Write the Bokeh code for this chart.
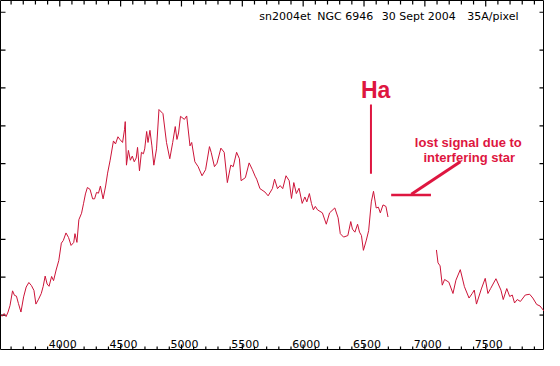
from bokeh.plotting import figure
from bokeh.models import Range1d, Label
from bokeh.core.properties import value
from bokeh.embed import file_html
from bokeh.resources import INLINE

# ---- data: spectrum of sn2004et (wavelength in Angstrom, relative flux) ----
wl_a = [3513, 3527, 3543, 3559, 3575, 3591, 3612, 3628, 3644, 3660,
        3681, 3703, 3724, 3746, 3767, 3788, 3804, 3826, 3848, 3864,
        3880, 3896, 3912, 3933, 3949, 3970, 3992, 4013, 4029, 4051,
        4072, 4093, 4115, 4125, 4141, 4157, 4179, 4195, 4211, 4227,
        4249, 4270, 4286, 4302, 4318, 4334, 4356, 4377, 4393, 4414,
        4441, 4458, 4478, 4494, 4516, 4532, 4538, 4548, 4564, 4580,
        4596, 4612, 4628, 4639, 4655, 4671, 4687, 4698, 4714, 4725,
        4741, 4757, 4773, 4795, 4815, 4848, 4877, 4904, 4928, 4949,
        4963, 4976, 4992, 5024, 5043, 5070, 5084, 5110, 5137, 5169,
        5198, 5230, 5244, 5271, 5292, 5324, 5351, 5377, 5405, 5425,
        5453, 5476, 5490, 5525, 5556, 5583, 5605, 5618, 5645, 5686,
        5712, 5747, 5765, 5789, 5811, 5832, 5859, 5885, 5904, 5923,
        5944, 5966, 5992, 6014, 6030, 6051, 6068, 6084, 6100, 6118,
        6158, 6190, 6217, 6260, 6287, 6305, 6332, 6367, 6391, 6405,
        6425, 6447, 6463, 6479, 6495, 6519, 6538, 6560, 6578, 6600,
        6618, 6634, 6656, 6680, 6697]
flux_a = [1.01, 0.97, 1.04, 0.96, 1.08, 1.25, 1.64, 1.52, 1.50, 1.31,
          1.08, 1.48, 1.74, 1.86, 1.78, 1.65, 1.29, 1.42, 1.57, 1.76,
          2.03, 1.82, 1.76, 2.02, 1.91, 2.19, 2.44, 2.90, 2.97, 3.17,
          3.05, 2.84, 2.92, 3.15, 2.92, 3.52, 3.69, 3.94, 4.20, 4.37,
          4.32, 4.07, 4.07, 4.24, 4.22, 4.41, 4.07, 4.41, 4.75, 5.09,
          5.60, 5.52, 5.71, 5.64, 5.56, 5.90, 6.11, 4.96, 5.35, 5.09,
          5.20, 5.05, 5.15, 5.43, 4.81, 5.30, 5.26, 5.39, 5.85, 5.56,
          5.88, 5.47, 4.96, 5.39, 6.43, 6.32, 5.56, 5.13, 5.56, 5.98,
          5.64, 5.81, 6.25, 6.17, 6.26, 5.47, 5.56, 5.05, 4.92, 4.68,
          4.84, 5.45, 5.30, 4.92, 5.01, 5.41, 5.30, 4.50, 4.96, 4.92,
          5.30, 5.13, 4.55, 4.63, 5.02, 4.84, 4.67, 4.59, 4.34, 4.25,
          4.15, 4.34, 4.59, 4.34, 4.42, 4.34, 4.68, 4.55, 4.08, 4.50,
          4.21, 4.35, 3.95, 4.12, 3.99, 4.21, 3.95, 3.78, 3.87, 3.78,
          3.70, 3.40, 3.70, 3.83, 3.57, 3.15, 3.06, 3.10, 3.47, 3.27,
          3.19, 3.40, 3.19, 3.10, 2.71, 2.98, 3.23, 3.99, 4.27, 3.83,
          3.85, 3.70, 3.91, 3.87, 3.59]
wl_b = [7095, 7108, 7125, 7143, 7162, 7197, 7231, 7255, 7291, 7325,
        7363, 7389, 7406, 7424, 7464, 7496, 7518, 7540, 7584, 7625,
        7644, 7673, 7697, 7718, 7737, 7759, 7785, 7825, 7861, 7887,
        7919, 7946, 7978]
flux_b = [2.72, 2.38, 2.30, 1.79, 1.94, 1.87, 1.57, 1.92, 2.20, 1.75,
          1.45, 1.57, 1.66, 1.29, 1.69, 1.97, 1.57, 1.70, 1.96, 1.66,
          1.41, 1.70, 1.49, 1.53, 1.32, 1.41, 1.36, 1.53, 1.55, 1.45,
          1.28, 1.24, 1.11]

x_major = [4000, 4500, 5000, 5500, 6000, 6500, 7000, 7500]
x_labels = ["4000", "4500", "5000", "5500", "6000", "6500", "7000", "7500"]
x_minor = [t for t in range(3600, 8000, 100) if t % 500 != 0]
y_major = [1, 2, 3, 4, 5, 6, 7, 8, 9]

title_parts = ["sn2004et", "NGC 6946", "30 Sept 2004", "35A/pixel"]
title_x = [5640, 6116, 6645, 7349]

X0, X1 = 3513, 7983
Y0, Y1 = 0.064, 9.31
W, H = 544, 350

LINE_COL = "#CC1438"
TXT_COL = "#DE1640"

p = figure(width=W, height=H, x_range=Range1d(X0, X1), y_range=Range1d(Y0, Y1),
           output_backend="svg", toolbar_location=None,
           x_axis_location=None, y_axis_location=None, min_border=0)
p.xgrid.visible = False
p.ygrid.visible = False
p.outline_line_color = "black"
p.outline_line_width = 1
p.background_fill_color = "white"
p.border_fill_color = "white"

# inward tick marks on all four sides of the frame (lengths given in pixels)
py = (Y1 - Y0) / H
px = (X1 - X0) / W
for ticks, ln in [(x_major, 6), (x_minor, 4)]:
    n = len(ticks)
    p.segment(x0=ticks, y0=[Y0] * n, x1=ticks, y1=[Y0 + ln * py] * n,
              line_color="black", line_width=1.2)
    p.segment(x0=ticks, y0=[Y1] * n, x1=ticks, y1=[Y1 - ln * py] * n,
              line_color="black", line_width=1.2)
ny = len(y_major)
p.segment(x0=[X0] * ny, y0=y_major, x1=[X0 + 5 * px] * ny, y1=y_major,
          line_color="black", line_width=1.2)
p.segment(x0=[X1] * ny, y0=y_major, x1=[X1 - 5 * px] * ny, y1=y_major,
          line_color="black", line_width=1.2)

# spectrum
p.line(wl_a, flux_a, line_color=LINE_COL, line_width=1)
p.line(wl_b, flux_b, line_color=LINE_COL, line_width=1)

# x tick labels drawn inside the frame
p.text(x=x_major, y=[0.24] * len(x_major), text=x_labels,
       text_font=value("DejaVu Sans"), text_font_size="11px",
       text_align="center", text_baseline="alphabetic", x_offset=3, text_color="black")

# header
for t, xx in zip(title_parts, title_x):
    p.add_layout(Label(x=xx, y=8.90, text=t, text_font="DejaVu Sans", text_font_size="11px",
                       text_baseline="alphabetic", text_align="left", text_color="black"))

# annotations
p.add_layout(Label(x=6595, y=6.94, text="Ha", text_font="Liberation Sans",
                   text_font_style="bold", text_font_size="23px", text_align="center",
                   text_baseline="alphabetic", text_color=TXT_COL))
p.segment(x0=[6557], y0=[4.73], x1=[6557], y1=[6.56], line_color=TXT_COL, line_width=2)

p.add_layout(Label(x=7357, y=5.57, text="lost signal due to", text_font="Liberation Sans",
                   text_font_style="bold", text_font_size="13px", text_align="center",
                   text_baseline="alphabetic", text_color=TXT_COL))
p.add_layout(Label(x=7365, y=5.16, text="interfering star", text_font="Liberation Sans",
                   text_font_style="bold", text_font_size="13px", text_align="center",
                   text_baseline="alphabetic", text_color=TXT_COL))
p.segment(x0=[7291], y0=[5.05], x1=[6889], y1=[4.19], line_color=TXT_COL, line_width=3)
p.segment(x0=[6723], y0=[4.17], x1=[7050], y1=[4.17], line_color=TXT_COL, line_width=2.5)

open("out.html", "w").write(file_html(p, INLINE))
